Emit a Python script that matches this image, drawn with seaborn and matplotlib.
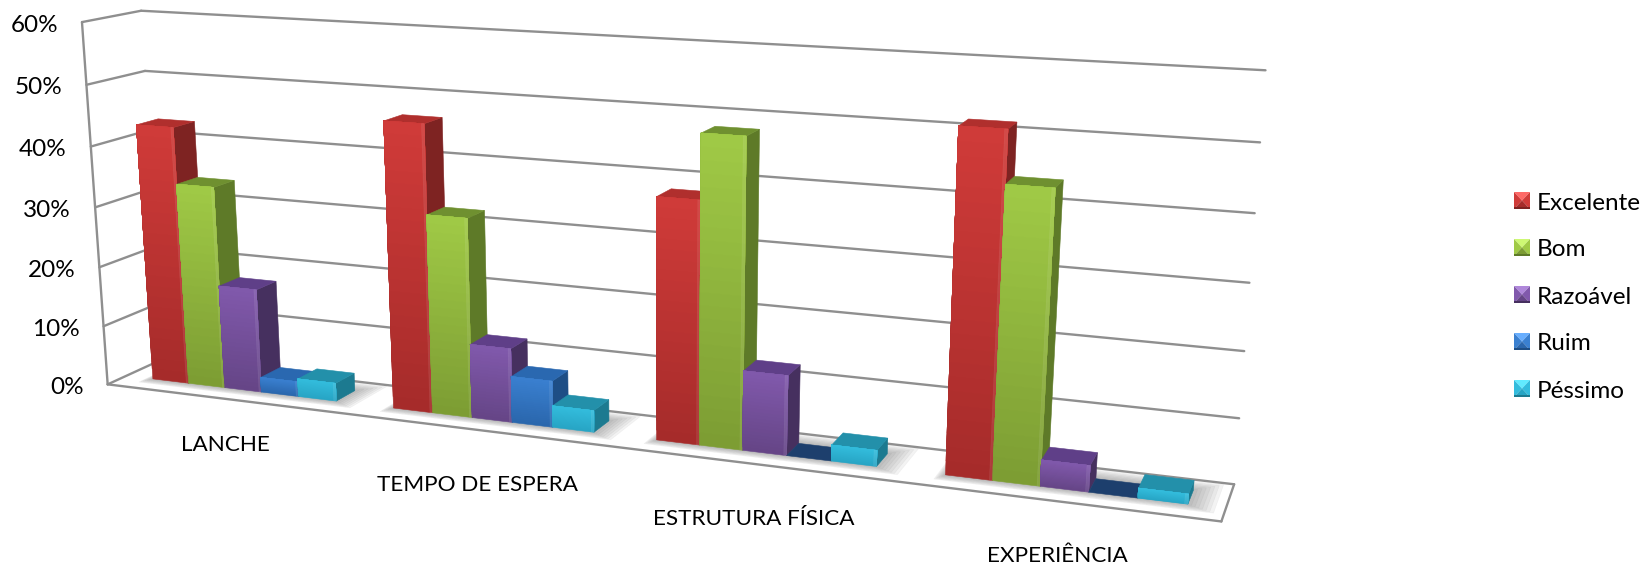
import numpy as np
import pandas as pd
import matplotlib
matplotlib.use('Agg')
import matplotlib.pyplot as plt
import seaborn as sns

# Values (percent)
categorias = ['LANCHE', 'TEMPO DE ESPERA', 'ESTRUTURA FÍSICA', 'EXPERIÊNCIA']
notas = ['Excelente', 'Bom', 'Razoável', 'Ruim', 'Péssimo']
excelente = [43, 46.5, 38, 51.5]
bom = [33.7, 32.2, 48, 43.7]
razoavel = [17.3, 12, 12.5, 4]
ruim = [2.5, 7.5, 0, 0]
pessimo = [3, 3.5, 2.5, 1.5]
y_ticks = [0, 10, 20, 30, 40, 50, 60]

# front / front bottom / side / top colours per series
cores = {
    'Excelente': ('#D03B39', '#A52B2A', '#7E2322', '#B02F2D'),
    'Bom': ('#A0CA46', '#7C9C33', '#5E7A28', '#6F9030'),
    'Razoável': ('#8159AC', '#654586', '#46305F', '#5F3F88'),
    'Ruim': ('#3A80D0', '#2A66AC', '#1E4E85', '#2A68B0'),
    'Péssimo': ('#33BCDD', '#27A5C4', '#1C7A90', '#2390AA'),
}
cor_vazia = '#1D3F6D'

sns.set_theme(style='white')
plt.rcParams['font.family'] = ['Lato', 'DejaVu Sans']

df = pd.DataFrame({'categoria': categorias, 'Excelente': excelente, 'Bom': bom,
                   'Razoável': razoavel, 'Ruim': ruim, 'Péssimo': pessimo})
df = df.melt(id_vars='categoria', var_name='nota', value_name='valor')

fig = plt.figure(figsize=(16.46, 5.66), dpi=100)
base = fig.add_axes([0, 0, 1, 1])
sns.barplot(data=df, x='categoria', y='valor', hue='nota', order=categorias,
            hue_order=notas, width=0.77, gap=0, legend=False, ax=base)
base.set_xlim(-0.5, 3.5)
base.set_visible(False)

# Canvas in pixels, the flat seaborn bars get projected onto it
ov = fig.add_axes([0, 0, 1, 1])
ov.set_xlim(0, 1646)
ov.set_ylim(566, 0)
ov.axis('off')

# Calibration of the 3D box: (x, value, depth) -> pixel, weight
box = [
    ((0, 0, 0), (113, 382), 4), ((0, 60, 0), (79, 23), 6),
    ((0, 60, 1), (148, 9), 4), ((0, 0, 1), (157, 361), 4),
    ((4, 60, 1), (1265, 70), 4), ((4, 0, 1), (1234, 484), 4),
    ((4, 0, 0), (1222, 522), 4),
    ((0.5, 0, 0.33), (258, 388), 1), ((3.5, 0, 0.33), (1062, 490), 1),
]
A, b = [], []
for (X, Y, Z), (u, v), w in box:
    A.append([w * c for c in [X, Y, Z, 1, 0, 0, 0, 0, -u * X, -u * Y, -u * Z]])
    A.append([w * c for c in [0, 0, 0, 0, X, Y, Z, 1, -v * X, -v * Y, -v * Z]])
    b += [w * u, w * v]
P = np.append(np.linalg.lstsq(np.array(A, float), np.array(b, float), rcond=None)[0], 1).reshape(3, 4)


def project(x, y, z):
    h = P @ np.array([x, y, z, 1.0])
    return h[0] / h[2], h[1] / h[2]


def face(pts, color, zorder, alpha=1.0):
    xy = [project(*p) for p in pts]
    ov.fill(*zip(*xy), color=color, lw=0.4, zorder=zorder, alpha=alpha)


def wall_line(a, b):
    xy = [project(*a), project(*b)]
    ov.plot(*zip(*xy), color='#8f8f8f', lw=1.7, zorder=1, solid_capstyle='round')


# Walls and floor
for t in y_ticks:
    wall_line((0, t, 0), (0, t, 1))
    wall_line((0, t, 1), (4, t, 1))
wall_line((0, 0, 0), (0, 60, 0))
wall_line((0, 0, 0), (4, 0, 0))
wall_line((4, 0, 0), (4, 0, 1))

z0, z1 = 0.33, 0.71

# Bars as seaborn laid them out, patches come hue by hue
rects = []
for i, p in enumerate(base.patches[:len(df)]):
    rects.append((p.get_x() + 0.5, p.get_width(), p.get_height(), notas[i // len(categorias)]))
rects.sort(key=lambda r: r[0])

# Soft shadow on the floor, one for each group of bars
for cat in range(len(categorias)):
    grupo = [r for r in rects if cat <= r[0] < cat + 1]
    g0 = grupo[0][0]
    g1 = grupo[-1][0] + grupo[-1][1]
    for k in range(7):
        d = 0.012 * (k + 1)
        dz = 0.035 * (k + 1)
        face([(g0 - d * 0.3, 0, z0 - dz * 0.6), (g1 + d, 0, z0 - dz * 0.6),
              (g1 + d, 0, z1 + dz), (g0 - d * 0.3, 0, z1 + dz)], '#707070', 2, alpha=0.08)

# Left to right so each bar covers the side of the previous one
for i, (x0, w, h, nota) in enumerate(rects):
    c_top, c_bot, c_side, c_cap = cores[nota]
    x1 = x0 + w
    z = 10 + i
    face([(x1, 0, z0), (x1, 0, z1), (x1, h, z1), (x1, h, z0)], c_side, z)
    face([(x0, h, z0), (x1, h, z0), (x1, h, z1), (x0, h, z1)], c_cap if h > 0 else cor_vazia, z)
    # vertical gradient on the front, each step painted over the last one
    if h > 0:
        top = np.array(matplotlib.colors.to_rgb(c_top))
        bot = np.array(matplotlib.colors.to_rgb(c_bot))
        n = 24
        for k in range(n):
            a = h * k / n
            c = bot + (top - bot) * (k + 0.5) / n
            face([(x0, a, z0), (x1, a, z0), (x1, h, z0), (x0, h, z0)], tuple(c), z)
        # lighter bevel along the right side
        face([(x1 - 0.01, 0, z0), (x1, 0, z0), (x1, h, z0), (x1 - 0.01, h, z0)], 'white', z, alpha=0.08)

# Tick labels
for t in y_ticks:
    px, py = project(0, t, 0)
    ov.text(px - 24, py + 3, f'{t}%', ha='right', va='center', fontsize=17.5, color='black', zorder=40)

label_dy = [46, 55, 55, 55]
for i, cat in enumerate(categorias):
    px, py = project(i + 0.5, 0, 0)
    ov.text(px, py + label_dy[i], cat, ha='center', va='center', fontsize=16.2, color='black', zorder=40)

# Legend with the little pyramid markers
for i, nota in enumerate(notas):
    c_top, c_bot, c_side, c_cap = cores[nota]
    cy = 200 + i * 47
    l, r, t, b_ = 1514, 1530, cy - 8, cy + 9
    cx, cm = (l + r) / 2, (t + b_) / 2
    luz = tuple(np.clip(np.array(matplotlib.colors.to_rgb(c_top)) + 0.18, 0, 1))
    ov.fill([l, r, cx], [t, t, cm], color=luz, lw=0, zorder=40)
    ov.fill([l, cx, l], [t, cm, b_], color=c_top, lw=0, zorder=40)
    ov.fill([r, cx, r], [t, cm, b_], color=c_top, lw=0, zorder=40)
    ov.fill([l, r, cx], [b_, b_, cm], color=c_bot, lw=0, zorder=40)
    ov.fill([l, r, r, l], [b_ - 2, b_ - 2, b_, b_], color=c_side, lw=0, zorder=41)
    ov.text(1537, cy + 3, nota, ha='left', va='center', fontsize=17.5, color='black', zorder=40)

fig.savefig('out.png', dpi=100, facecolor='white')
